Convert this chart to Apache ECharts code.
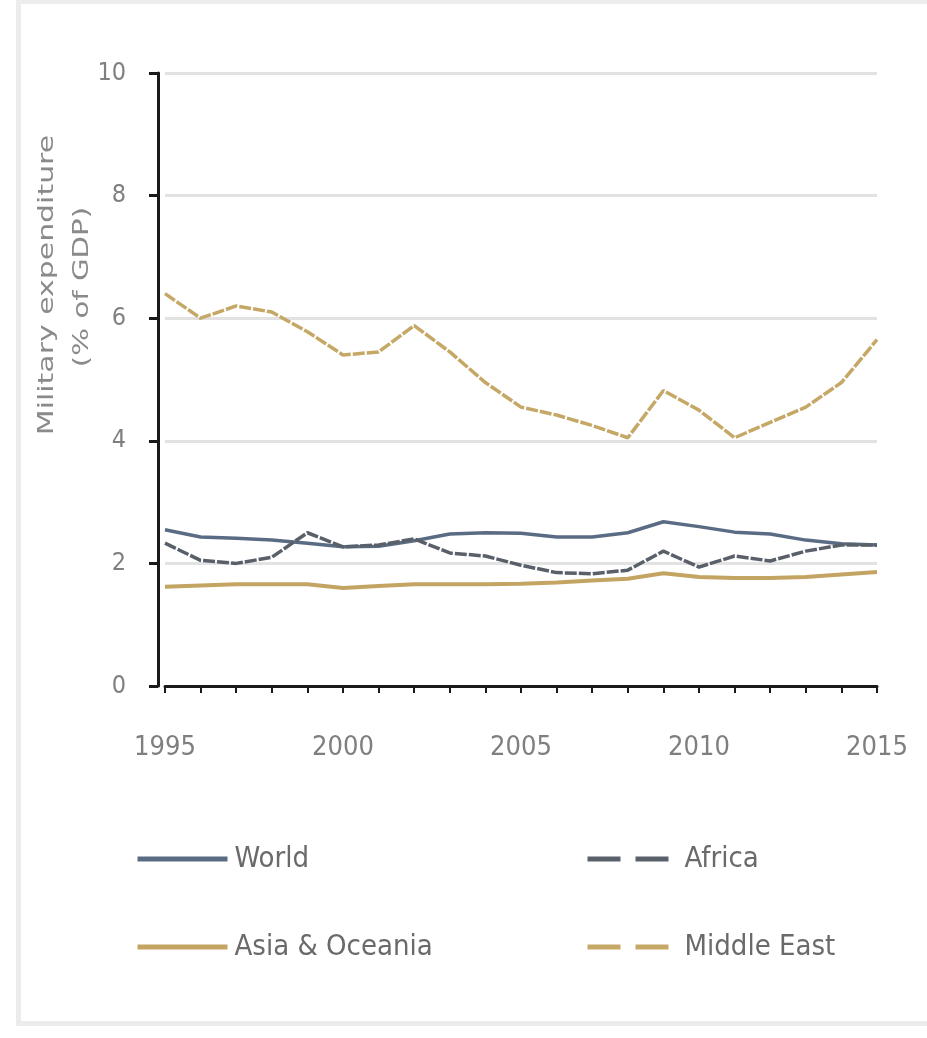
<!DOCTYPE html>
<html>
<head>
<meta charset="utf-8">
<script src="https://cdn.jsdelivr.net/npm/echarts@6/dist/echarts.min.js"></script>
<style>
  html, body { margin: 0; padding: 0; background: #ffffff; }
  #frame { position: absolute; left: 16px; top: 0px; width: 920px; height: 1026px; border-left: 5px solid #ececec; border-top: 4px solid #ececec; border-bottom: 5px solid #ececec; box-sizing: border-box; }
  #chart { position: absolute; left: 0; top: 0; width: 927px; height: 1038px; }
</style>
</head>
<body>
<div id="frame"></div>
<div id="chart"></div>
<script>
const years = [1995,1996,1997,1998,1999,2000,2001,2002,2003,2004,2005,2006,2007,2008,2009,2010,2011,2012,2013,2014,2015];
const world      = [2.55,2.43,2.41,2.38,2.33,2.27,2.28,2.37,2.48,2.50,2.49,2.43,2.43,2.50,2.68,2.60,2.51,2.48,2.38,2.32,2.30];
const africa     = [2.33,2.05,2.00,2.10,2.50,2.27,2.30,2.40,2.17,2.12,1.97,1.85,1.83,1.89,2.20,1.94,2.12,2.04,2.20,2.30,2.30];
const asiaOceania= [1.62,1.64,1.66,1.66,1.66,1.60,1.63,1.66,1.66,1.66,1.67,1.69,1.72,1.75,1.84,1.78,1.76,1.76,1.78,1.82,1.86];
const middleEast = [6.40,6.00,6.20,6.10,5.78,5.40,5.45,5.88,5.45,4.95,4.55,4.42,4.25,4.05,4.82,4.50,4.05,4.30,4.55,4.95,5.65];
const yTicks = [0,2,4,6,8,10];
const xLabelYears = [1995,2000,2005,2010,2015];

const pair = (arr) => years.map((y, i) => [y, arr[i]]);
const labelFont = "'DejaVu Sans Condensed','Liberation Sans Narrow','Liberation Sans',sans-serif";

const chart = echarts.init(document.getElementById('chart'), null, { renderer: 'canvas' });
const legendBase = {
  orient: 'vertical', top: 838, itemWidth: 90, itemHeight: 14, itemGap: 56,
  itemStyle: { opacity: 0 },
  textStyle: { color: '#6a6a6a', fontFamily: labelFont, fontSize: 29, lineHeight: 32, padding: [0, 0, 0, 2] }
};
chart.setOption({
  animation: false,
  backgroundColor: 'transparent',
  grid: { left: 165, right: 50, top: 73, bottom: 352, containLabel: false },
  xAxis: {
    type: 'value', min: years[0], max: years[years.length - 1], interval: 1,
    axisLine: { show: true, lineStyle: { color: '#1a1a1a', width: 3 } },
    axisTick: { show: true, length: 7, lineStyle: { color: '#1a1a1a', width: 2 } },
    splitLine: { show: false },
    axisLabel: {
      margin: 48, color: '#7f7f7f', fontFamily: labelFont, fontSize: 27,
      formatter: v => xLabelYears.indexOf(v) >= 0 ? String(v) : ''
    }
  },
  yAxis: {
    type: 'value', min: yTicks[0], max: yTicks[yTicks.length - 1], interval: 2, offset: 7,
    axisLine: { show: true, lineStyle: { color: '#1a1a1a', width: 3 } },
    axisTick: { show: true, length: 9, lineStyle: { color: '#1a1a1a', width: 3 } },
    splitLine: { show: true, lineStyle: { color: '#e2e2e2', width: 3 } },
    axisLabel: { margin: 32, color: '#7f7f7f', fontFamily: labelFont, fontSize: 25 }
  },
  legend: [
    Object.assign({}, legendBase, {
      left: 130,
      data: [
        { name: 'World', lineStyle: { width: 5 } },
        { name: 'Asia & Oceania', lineStyle: { width: 5 } }
      ]
    }),
    Object.assign({}, legendBase, {
      left: 580,
      data: [
        { name: 'Africa', lineStyle: { width: 5, type: [33, 15] } },
        { name: 'Middle East', lineStyle: { width: 5, type: [33, 15] } }
      ]
    })
  ],
  graphic: [
    {
      type: 'text', x: 47, y: 285, rotation: Math.PI / 2, scaleX: 1.36,
      style: { text: 'Military expenditure', fill: '#8a8a8a', font: "22px 'DejaVu Sans', sans-serif", textAlign: 'center', textVerticalAlign: 'middle' }
    },
    {
      type: 'text', x: 82, y: 287, rotation: Math.PI / 2, scaleX: 1.33,
      style: { text: '(% of GDP)', fill: '#8a8a8a', font: "22px 'DejaVu Sans', sans-serif", textAlign: 'center', textVerticalAlign: 'middle' }
    }
  ],
  series: [
    { name: 'World', type: 'line', data: pair(world), symbol: 'none', z: 4,
      lineStyle: { color: '#5a6c84', width: 3.5 }, itemStyle: { color: '#5a6c84' } },
    { name: 'Africa', type: 'line', data: pair(africa), symbol: 'none', z: 4,
      lineStyle: { color: '#59606a', width: 3.5, type: [12, 2] }, itemStyle: { color: '#59606a' } },
    { name: 'Asia & Oceania', type: 'line', data: pair(asiaOceania), symbol: 'none', z: 3,
      lineStyle: { color: '#c4a463', width: 4 }, itemStyle: { color: '#c4a463' } },
    { name: 'Middle East', type: 'line', data: pair(middleEast), symbol: 'none', z: 3,
      lineStyle: { color: '#c6a866', width: 3.5, type: [12, 2] }, itemStyle: { color: '#c6a866' } }
  ]
});
</script>
</body>
</html>
